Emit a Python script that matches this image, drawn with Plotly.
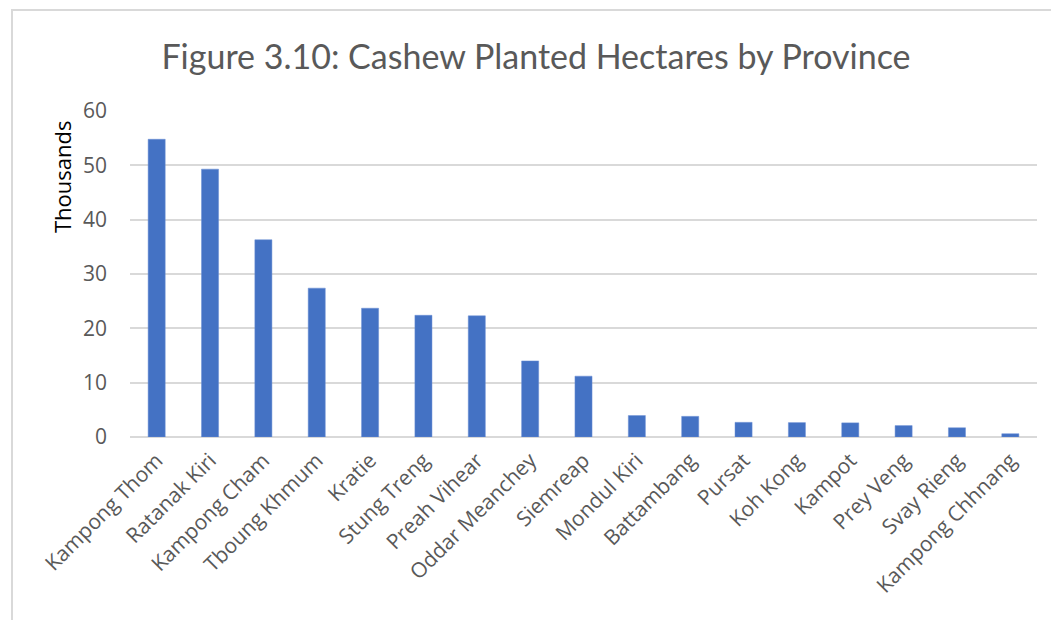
import plotly.graph_objects as go

provinces = ["Kampong Thom", "Ratanak Kiri", "Kampong Cham", "Tboung Khmum", "Kratie",
             "Stung Treng", "Preah Vihear", "Oddar Meanchey", "Siemreap", "Mondul Kiri",
             "Battambang", "Pursat", "Koh Kong", "Kampot", "Prey Veng", "Svay Rieng",
             "Kampong Chhnang"]
hectares_thousands = [54.8, 49.3, 36.3, 27.4, 23.7, 22.4, 22.3, 14.0, 11.2, 3.95,
                      3.8, 2.7, 2.65, 2.6, 2.1, 1.7, 0.6]
y_ticks = [0, 10, 20, 30, 40, 50, 60]

TITLE_FONT = "Lato, Carlito, sans-serif"
FONT = "'Open Sans', 'Noto Sans', sans-serif"
GRAY = "#595959"

fig = go.Figure(go.Bar(
    x=provinces, y=hectares_thousands,
    marker=dict(color="#4472C4", line=dict(color="#6a8fd4", width=0.5)),
    width=0.32,
))

fig.update_layout(
    width=1051, height=620,
    margin=dict(l=130, r=14, t=111, b=183),
    paper_bgcolor="white", plot_bgcolor="white",
    title=dict(text="Figure 3.10: Cashew Planted Hectares by Province",
               x=0.51, xanchor="center", y=0.908, yanchor="middle",
               font=dict(family=TITLE_FONT, size=34, color=GRAY)),
    showlegend=False,
    font=dict(family=FONT, color=GRAY),
)
fig.update_yaxes(range=[0, 60], tickvals=y_ticks, showgrid=True, gridcolor="#d9d9d9",
                 gridwidth=1.5, zeroline=True, zerolinecolor="#d9d9d9", zerolinewidth=1.5,
                 showline=False, ticks="", ticklabelstandoff=22,
                 tickfont=dict(family=FONT, size=21, color=GRAY))
fig.update_xaxes(tickangle=-45, tickfont=dict(family=FONT, size=21, color=GRAY),
                 showline=False, ticks="", showgrid=False, ticklabelstandoff=6)

fig.add_annotation(text="Thousands", textangle=-90, xref="paper", yref="paper",
                   x=-68/907, y=(437 - 177) / 326, xanchor="center", yanchor="middle",
                   showarrow=False, font=dict(family=FONT, size=22, color="black"))

fig.add_shape(type="rect", xref="paper", yref="paper",
              x0=-118/907, x1=1.2, y0=-1.0, y1=1 + 101/326,
              line=dict(color="#d9d9d9", width=2), fillcolor="rgba(0,0,0,0)", layer="below")

fig.write_html("out.html", config={"displayModeBar": False},
               post_script="document.body.style.margin='0';")
